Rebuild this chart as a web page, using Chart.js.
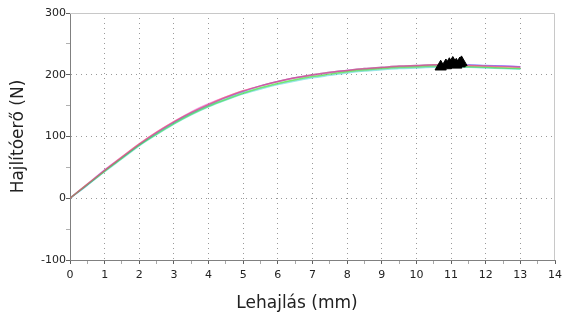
<!DOCTYPE html>
<html>
<head>
<meta charset="utf-8">
<script src="https://cdn.jsdelivr.net/npm/chart.js@4/dist/chart.umd.min.js"></script>
<style>
  html, body { margin: 0; padding: 0; background: #fff; }
  #wrap { width: 567px; height: 325px; }
</style>
</head>
<body>
<div id="wrap"><canvas id="chart" width="567" height="325"></canvas></div>
<script>
// lehajlás (mm)
const deflection = [0, 0.5, 1, 1.5, 2, 2.5, 3, 3.5, 4, 4.5, 5, 5.5, 6, 6.5, 7, 7.5, 8, 8.5, 9, 9.5, 10, 10.5, 11, 11.5, 12, 12.5, 13];

// hajlítóerő (N), próbatestenként
const forceRed     = [0, 23, 45, 67, 88, 107, 124, 139, 152, 164, 174, 182, 189, 195, 200, 204, 207, 210, 212, 214, 215, 216, 216, 215, 214, 213, 212];
const forceGreen   = [0, 22, 44, 65, 86, 104, 121, 136, 149, 160, 170, 179, 186, 192, 197, 201, 205, 208, 210, 212, 213, 214, 214, 213, 212, 211, 210];
const forceBlue    = [0, 22, 45, 66, 87, 106, 123, 138, 151, 163, 173, 182, 189, 195, 200, 204, 207, 210, 212, 214, 215, 216, 216, 216, 215, 214, 213];
const forceMagenta = [0, 23, 46, 67, 88, 107, 124, 140, 153, 164, 174, 182, 189, 195, 199, 203, 207, 209, 211, 213, 214, 215, 215, 215, 214, 214, 213];
const forceCyan    = [0, 21, 43, 64, 85, 103, 120, 135, 148, 159, 169, 177, 184, 190, 195, 199, 203, 206, 208, 210, 211, 212, 212, 212, 211, 210, 209];
const forceLime    = [0, 22, 44, 65, 86, 105, 122, 137, 150, 161, 171, 179, 186, 192, 197, 201, 205, 207, 210, 211, 212, 213, 213, 213, 212, 211, 210];

// törési pontok
const breakX = [10.7, 10.85, 10.95, 11.05, 11.15, 11.25, 11.3];
const breakY = [213, 215, 217, 219, 216, 218, 220];

const xTicks = [0, 1, 2, 3, 4, 5, 6, 7, 8, 9, 10, 11, 12, 13, 14];
const yTicks = [-100, 0, 100, 200, 300];

const FONT = 'DejaVu Sans';

function series(values, color) {
  return {
    type: 'line',
    data: deflection.map((x, i) => ({ x, y: values[i] })),
    borderColor: color,
    borderWidth: 1.5,
    pointRadius: 0,
    cubicInterpolationMode: 'monotone',
    order: 2
  };
}

// keret (felső és jobb oldal) + x tengely felirat
const framePlugin = {
  id: 'frame',
  beforeDatasetsDraw(chart) {
    const { ctx, chartArea: a } = chart;
    ctx.save();
    ctx.strokeStyle = '#c8c8c8';
    ctx.lineWidth = 1;
    ctx.beginPath();
    ctx.moveTo(a.left, a.top + 0.5);
    ctx.lineTo(a.right - 0.5, a.top + 0.5);
    ctx.lineTo(a.right - 0.5, a.bottom);
    ctx.stroke();
    ctx.restore();
  },
  afterDraw(chart) {
    const { ctx } = chart;
    ctx.save();
    ctx.fillStyle = '#222';
    ctx.font = '17px "' + FONT + '"';
    ctx.textAlign = 'center';
    ctx.textBaseline = 'middle';
    ctx.fillText('Lehajlás (mm)', 297, 304);
    ctx.restore();
  }
};

new Chart(document.getElementById('chart'), {
  type: 'scatter',
  data: {
    datasets: [
      {
        data: breakX.map((x, i) => ({ x, y: breakY[i] })),
        pointStyle: 'triangle',
        pointRadius: 6.5,
        backgroundColor: '#000',
        borderColor: '#000',
        borderWidth: 1,
        showLine: false,
        order: 1
      },
      series(forceRed, 'rgba(255,80,80,0.55)'),
      series(forceGreen, 'rgba(60,220,60,0.55)'),
      series(forceBlue, 'rgba(70,70,255,0.55)'),
      series(forceMagenta, 'rgba(230,80,230,0.55)'),
      series(forceCyan, 'rgba(70,210,210,0.55)'),
      series(forceLime, 'rgba(150,240,120,0.55)')
    ]
  },
  options: {
    responsive: false,
    animation: false,
    layout: { padding: { top: 13, right: 8, left: 0, bottom: 0 } },
    plugins: {
      legend: { display: false },
      tooltip: { enabled: false }
    },
    scales: {
      x: {
        type: 'linear',
        min: 0,
        max: 14,
        afterFit(scale) { scale.height = 65; },
        afterBuildTicks(scale) {
          const t = [];
          xTicks.forEach((v, i) => {
            t.push({ value: v });
            if (i < xTicks.length - 1) t.push({ value: v + 0.5 });
          });
          scale.ticks = t;
        },
        ticks: {
          autoSkip: false,
          maxRotation: 0,
          padding: 5,
          color: '#222',
          font: { family: FONT, size: 11 },
          callback: v => (xTicks.includes(v) ? String(v) : '')
        },
        grid: {
          color: c => (c.tick && xTicks.includes(c.tick.value) && c.tick.value > 0 && c.tick.value < 14 ? '#9a9a9a' : 'rgba(0,0,0,0)'),
          tickColor: c => (c.tick && xTicks.includes(c.tick.value) ? '#606060' : '#a8a8a8'),
          tickLength: 4,
          tickBorderDash: [],
          lineWidth: 1
        },
        border: { display: true, color: '#808080', width: 1, dash: [1, 4] }
      },
      y: {
        type: 'linear',
        min: -100,
        max: 300,
        afterFit(scale) { scale.width = 70; },
        afterBuildTicks(scale) {
          const t = [];
          yTicks.forEach((v, i) => {
            t.push({ value: v });
            if (i < yTicks.length - 1) t.push({ value: v + 50 });
          });
          scale.ticks = t;
        },
        ticks: {
          autoSkip: false,
          padding: 0,
          color: '#222',
          font: { family: FONT, size: 11 },
          callback: v => (yTicks.includes(v) ? String(v) : '')
        },
        grid: {
          color: c => (c.tick && yTicks.includes(c.tick.value) && c.tick.value > -100 && c.tick.value < 300 ? '#9a9a9a' : 'rgba(0,0,0,0)'),
          tickColor: c => (c.tick && yTicks.includes(c.tick.value) ? '#606060' : '#b0b0b0'),
          tickLength: 4,
          tickBorderDash: [],
          lineWidth: 1
        },
        border: { display: true, color: '#808080', width: 1, dash: [1, 4] },
        title: {
          display: true,
          text: 'Hajlítóerő (N)',
          color: '#222',
          font: { family: FONT, size: 17 },
          padding: { top: 8, bottom: 0 }
        }
      }
    }
  },
  plugins: [framePlugin]
});
</script>
</body>
</html>
